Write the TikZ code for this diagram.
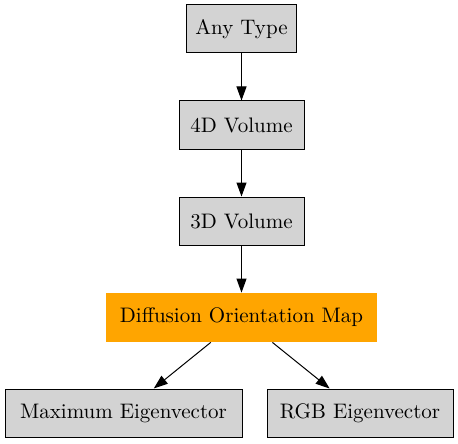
\documentclass[tikz,border=0pt]{standalone}
\usepackage{tikz}
\usetikzlibrary{arrows.meta,positioning}
\definecolor{gvgray}{RGB}{211,211,211}
\definecolor{gvorange}{RGB}{255,165,0}

\begin{document}
\begin{tikzpicture}[x=0.5pt, y=-0.5pt,
      stage/.style={rectangle, draw=black, fill=gvgray, minimum height=24pt, inner sep=2pt, align=center, font=\fontsize{10.5}{12}\selectfont, line width=0.5pt},
      mapbox/.style={rectangle, fill=gvorange, minimum height=24.5pt, minimum width=135.5pt, inner sep=2pt, align=center, font=\fontsize{10.5}{12}\selectfont},
      flow/.style={-{Triangle[length=7pt, width=5pt]}, line width=0.5pt}
    ]
      \useasboundingbox (0,0) rectangle (458,443);

      \node[stage, minimum width=55pt] (anytype) at (241.5,29) {Any Type};
      \node[stage, minimum width=62.5pt] (vol4d) at (241.5,125) {4D Volume};
      \node[stage, minimum width=62.5pt] (vol3d) at (241.5,221) {3D Volume};
      \node[mapbox] (dmap) at (241.5,317.5) {Diffusion Orientation Map};
      \node[stage, minimum width=118.5pt] (maxeig) at (123.5,413) {Maximum Eigenvector};
      \node[stage, minimum width=93pt] (rgbeig) at (360,413) {RGB Eigenvector};

      \draw[flow] (anytype) -- (vol4d);
      \draw[flow] (vol4d) -- (vol3d);
      \draw[flow] (vol3d) -- (dmap);
      \draw[flow] (dmap) -- (maxeig);
      \draw[flow] (dmap) -- (rgbeig);
    \end{tikzpicture}
\end{document}
